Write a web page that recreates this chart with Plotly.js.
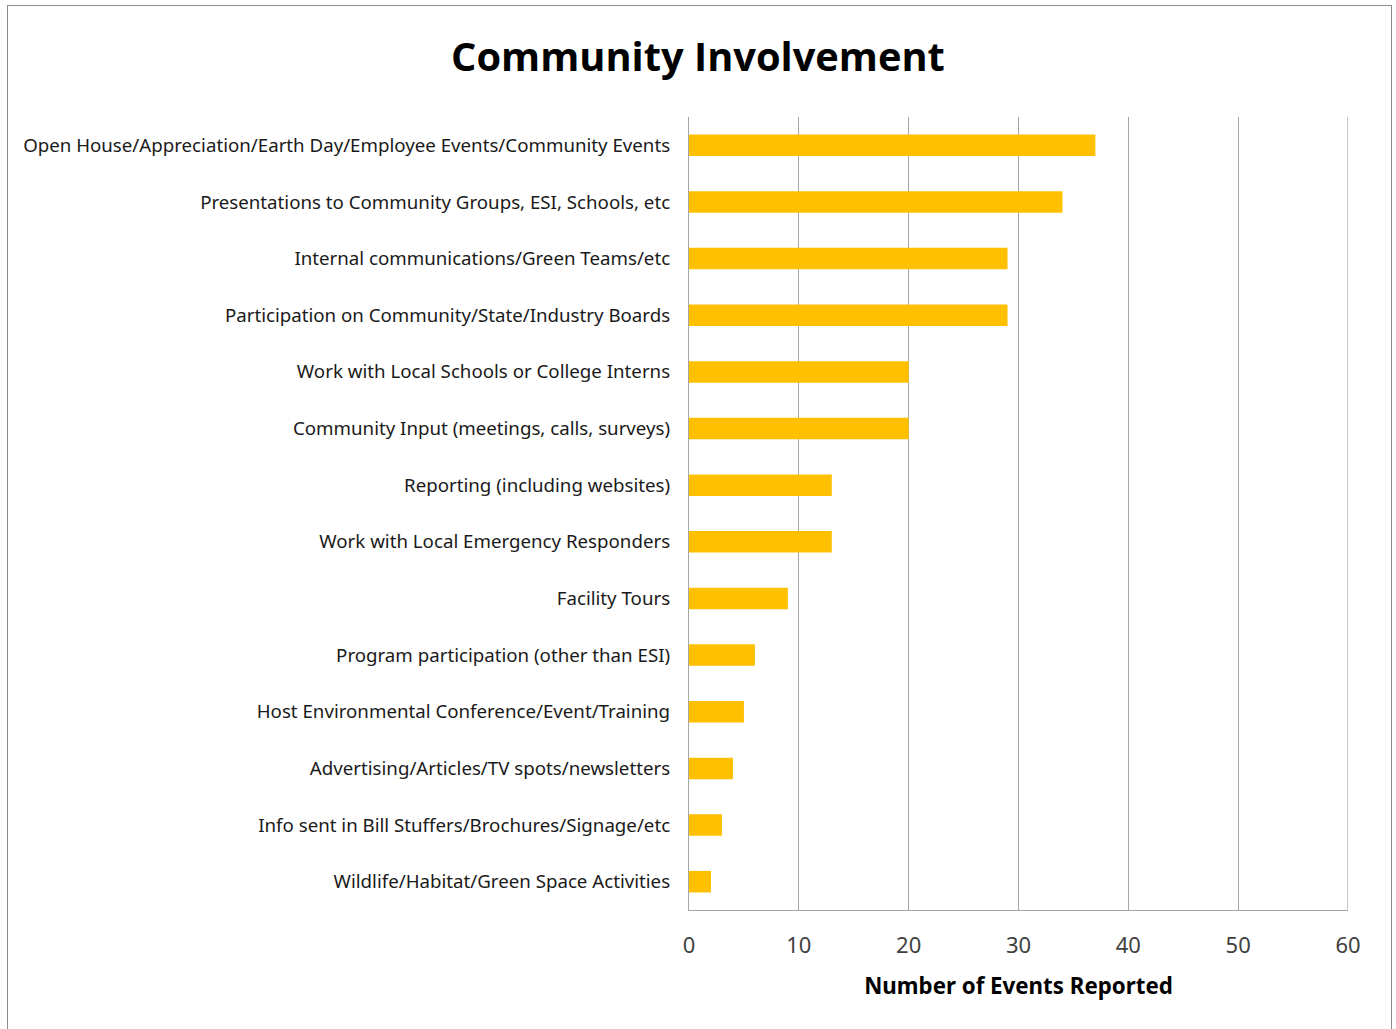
<!DOCTYPE html>
<html>
<head>
<meta charset="utf-8">
<script src="https://cdn.plot.ly/plotly-3.0.1.min.js"></script>
<style>
body{margin:0;padding:0;background:#fff;}
#wrap{position:relative;width:1396px;height:1029px;}
#chart{position:absolute;left:0;top:0;width:1396px;height:1029px;}
#frame{position:absolute;left:7px;top:5px;width:1383px;height:1040px;border:1.5px solid #8c8c8c;border-bottom:none;pointer-events:none;}
</style>
</head>
<body>
<div id="wrap"><div id="chart"></div><div id="frame"></div></div>
<script>
const categories = [
  "Open House/Appreciation/Earth Day/Employee Events/Community Events",
  "Presentations to Community Groups, ESI, Schools, etc",
  "Internal communications/Green Teams/etc",
  "Participation on Community/State/Industry Boards",
  "Work with Local Schools or College Interns",
  "Community Input (meetings, calls, surveys)",
  "Reporting (including websites)",
  "Work with Local Emergency Responders",
  "Facility Tours",
  "Program participation (other than ESI)",
  "Host Environmental Conference/Event/Training",
  "Advertising/Articles/TV spots/newsletters",
  "Info sent in Bill Stuffers/Brochures/Signage/etc",
  "Wildlife/Habitat/Green Space Activities"
];
const eventsReported = [37, 34, 29, 29, 20, 20, 13, 13, 9, 6, 5, 4, 3, 2];
const xTickValues = [0, 10, 20, 30, 40, 50, 60];

const trace = {
  type: 'bar',
  orientation: 'h',
  x: eventsReported,
  y: categories,
  marker: {color: '#FFC000'},
  hoverinfo: 'x+y'
};

const xMax = xTickValues[xTickValues.length - 1];

const layout = {
  width: 1396,
  height: 1029,
  margin: {l: 689, r: 48, t: 117, b: 119, pad: 0},
  paper_bgcolor: 'rgba(0,0,0,0)',
  plot_bgcolor: '#fff',
  bargap: 0.62,
  showlegend: false,
  title: {
    text: '<b>Community Involvement</b>',
    font: {family: 'Open Sans, sans-serif', size: 39.8, color: '#000'},
    x: 0.5, xanchor: 'center',
    y: 0.945, yanchor: 'middle'
  },
  xaxis: {
    range: [0, xMax],
    tickvals: xTickValues,
    ticktext: xTickValues.map(String),
    showgrid: true,
    gridcolor: '#a6a6a6',
    gridwidth: 1.3,
    zeroline: false,
    showline: true,
    linecolor: '#a6a6a6',
    linewidth: 1.3,
    ticks: '',
    ticklabelstandoff: 15,
    tickfont: {family: 'Noto Sans, sans-serif', size: 22, color: '#404040'},
    title: {
      text: '<b>Number of Events Reported</b>',
      font: {family: 'Noto Sans, sans-serif', size: 22.3, color: '#000'},
      standoff: 20
    },
    fixedrange: true
  },
  yaxis: {
    type: 'category',
    categoryorder: 'array',
    categoryarray: categories,
    autorange: 'reversed',
    showgrid: false,
    zeroline: false,
    showline: true,
    linecolor: '#a6a6a6',
    linewidth: 1.3,
    ticks: '',
    ticklabelstandoff: 14,
    tickfont: {family: 'Noto Sans, sans-serif', size: 18.7, color: '#1a1a1a'},
    fixedrange: true
  },
  shapes: [{
    type: 'line', xref: 'x', yref: 'paper',
    x0: xMax, x1: xMax, y0: 0, y1: 1,
    line: {color: '#a6a6a6', width: 1.3}
  }]
};

Plotly.newPlot('chart', [trace], layout, {displayModeBar: false});
</script>
</body>
</html>
